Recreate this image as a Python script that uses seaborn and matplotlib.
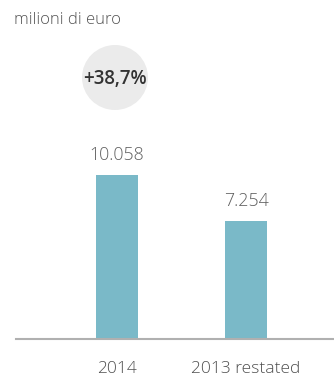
import matplotlib
matplotlib.use("Agg")
import matplotlib.pyplot as plt
import seaborn as sns
import pandas as pd
from matplotlib.patches import Ellipse

categories = ["2014", "2013 restated"]
values = [10058, 7254]
value_labels = ["10.058", "7.254"]
title = "milioni di euro"
badge = "+38,7%"

sns.set_theme(style="white")
plt.rcParams['font.family'] = ['Open Sans', 'DejaVu Sans']

W, H = 334, 380
fig = plt.figure(figsize=(W / 100, H / 100), dpi=100)
ax = fig.add_axes([16 / W, (H - 339) / H, 318 / W, 339 / H])

df = pd.DataFrame({"cat": categories, "val": values})
sns.barplot(data=df, x="cat", y="val", color="#7ab9c8", saturation=1,
            width=0.326, linewidth=0, ax=ax)

ax.set_xlim(-0.783, 1.682)
ax.set_ylim(0, 10058 * 339 / 164)
for s in ["top", "right", "left"]:
    ax.spines[s].set_visible(False)
ax.spines["bottom"].set_color("#b0b0b0")
ax.spines["bottom"].set_linewidth(1.5)
ax.set_yticks([])
ax.set_xlabel("")
ax.set_ylabel("")
ax.tick_params(axis="x", length=0, pad=16, labelsize=12.5, labelcolor="#505050")
for t in ax.get_xticklabels():
    t.set_fontweight("light")

for i, (v, lab) in enumerate(zip(values, value_labels)):
    ax.annotate(lab, (i, v), xytext=(0, 8), textcoords="offset points",
                ha="center", va="bottom", fontsize=12.8, color="#606060",
                fontweight="light")

fig.text(14 / W, 1 - 20 / H, title, ha="left", va="center",
         fontsize=12, color="#555555", fontweight="light")
fig.patches.append(Ellipse((115 / W, 1 - 77.5 / H), 66 / W, 65 / H,
                           transform=fig.transFigure, facecolor="#ebebeb",
                           edgecolor="none", zorder=0))
fig.text(114.5 / W, 1 - 79 / H, badge, ha="center", va="center",
         fontsize=13.5, fontweight="semibold", color="#333333")

fig.savefig("out.png", dpi=100)
